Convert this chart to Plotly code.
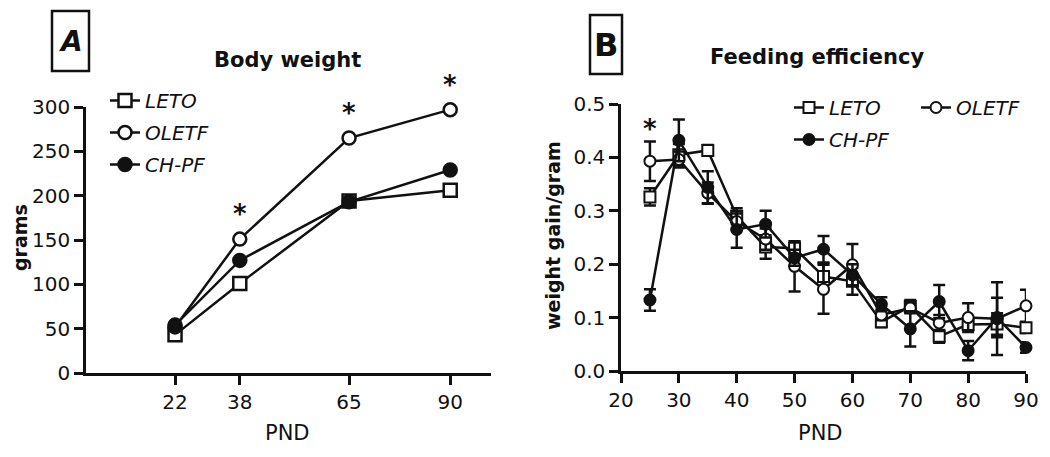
import plotly.graph_objects as go

# ---------------- data ----------------
# Panel A: body weight (grams)
pnd_a = [22, 38, 65, 90]
leto_bw = [43, 101, 194, 206]
oletf_bw = [52, 151, 265, 297]
chpf_bw = [54, 127, 193, 229]
stars_a = [38, 65, 90]

# Panel B: feeding efficiency (weight gain / gram)
pnd_b = [25, 30, 35, 40, 45, 50, 55, 60, 65, 70, 75, 80, 85, 90]
leto_fe = [0.326, 0.405, 0.413, 0.290, 0.232, 0.230, 0.177, 0.168, 0.092, 0.121, 0.065, 0.087, 0.088, 0.081]
leto_err = [0.016, 0.020, 0.010, 0.015, 0.022, 0.012, 0.025, 0.025, 0.010, 0.012, 0.012, 0.010, 0.020, 0.010]
oletf_fe = [0.393, 0.396, 0.333, 0.280, 0.247, 0.196, 0.153, 0.199, 0.105, 0.118, 0.090, 0.100, 0.098, 0.122]
oletf_err = [0.037, 0.015, 0.020, 0.015, 0.020, 0.047, 0.046, 0.039, 0.010, 0.010, 0.015, 0.027, 0.068, 0.030]
chpf_fe = [0.133, 0.432, 0.344, 0.265, 0.275, 0.212, 0.228, 0.180, 0.125, 0.079, 0.130, 0.038, 0.100, 0.044]
chpf_err = [0.020, 0.039, 0.030, 0.034, 0.025, 0.015, 0.025, 0.020, 0.013, 0.033, 0.031, 0.018, 0.037, 0.010]
stars_b = [25]

# ---------------- style ----------------
W, H = 1050, 457
FONT = "DejaVu Sans"
BLACK = "#111111"
LW = 2.5


def px(x):
    return x / W


def py(y):
    return 1 - y / H


fig = go.Figure()

series_a = [
    ("LETO", leto_bw, "square", "white"),
    ("OLETF", oletf_bw, "circle", "white"),
    ("CH-PF", chpf_bw, "circle", BLACK),
]
for name, vals, sym, fill in series_a:
    fig.add_trace(go.Scatter(
        x=pnd_a, y=vals, name=name, mode="lines+markers",
        xaxis="x", yaxis="y", legend="legend", legendgroup="a" + name,
        line=dict(color=BLACK, width=LW),
        marker=dict(symbol=sym, size=13, color=fill, line=dict(color=BLACK, width=LW)),
        cliponaxis=False,
    ))

series_b = [
    ("LETO", leto_fe, leto_err, "square", "white", "legend2"),
    ("OLETF", oletf_fe, oletf_err, "circle", "white", "legend3"),
    ("CH-PF", chpf_fe, chpf_err, "circle", BLACK, "legend2"),
]
for name, vals, err, sym, fill, leg in series_b:
    fig.add_trace(go.Scatter(
        x=pnd_b, y=vals, name=name, mode="lines+markers",
        xaxis="x2", yaxis="y2", legend=leg, legendgroup="b" + name,
        line=dict(color=BLACK, width=LW),
        marker=dict(symbol=sym, size=11, color=fill, line=dict(color=BLACK, width=2)),
        error_y=dict(type="data", array=err, visible=True, color=BLACK,
                     thickness=LW, width=6),
        cliponaxis=False,
    ))

axis_common = dict(
    showline=True, linewidth=LW, linecolor=BLACK, showgrid=False, zeroline=False,
    ticks="outside", ticklen=9, tickwidth=LW, tickcolor=BLACK, automargin=False,
    tickfont=dict(family=FONT, size=20, color=BLACK),
)

legend_common = dict(
    bgcolor="rgba(0,0,0,0)", borderwidth=0, itemwidth=30,
    font=dict(family=FONT, size=20, color=BLACK, style="italic"),
    xanchor="left", yanchor="top", traceorder="grouped", tracegroupgap=3,
)

annotations = []
for xv in stars_a:
    annotations.append(dict(
        x=xv, y=oletf_bw[pnd_a.index(xv)], xref="x", yref="y", text="*",
        xanchor="center", yanchor="middle",
        showarrow=False, yshift=25, font=dict(family=FONT, size=26, color=BLACK, weight="bold")))
for xv in stars_b:
    i = pnd_b.index(xv)
    annotations.append(dict(
        x=xv, y=oletf_fe[i] + oletf_err[i], xref="x2", yref="y2", text="*",
        xanchor="center", yanchor="middle",
        showarrow=False, yshift=12, font=dict(family=FONT, size=26, color=BLACK, weight="bold")))


def label(x, y, text, size, angle=0, **fkw):
    return dict(x=px(x), y=py(y), xref="paper", yref="paper", text=text, textangle=angle,
                xanchor="center", yanchor="middle", showarrow=False,
                font=dict(family=FONT, size=size, color=BLACK, **fkw))


# titles, axis titles, panel letters
annotations += [
    label(287, 60, "Body weight", 21, weight="bold"),
    label(817, 57, "Feeding efficiency", 21, weight="bold"),
    label(287, 433, "PND", 21),
    label(820, 433, "PND", 21),
    label(20, 238, "grams", 19, -90, weight="bold"),
    label(553, 236, "weight gain/gram", 19, -90, weight="bold"),
    label(70.5, 42, "A", 28, style="italic", weight="bold"),
    label(606, 45, "B", 32, weight="bold"),
]

shapes = [
    dict(type="rect", xref="paper", yref="paper", x0=px(52), x1=px(89), y0=py(71), y1=py(11),
         line=dict(color=BLACK, width=LW)),
    dict(type="rect", xref="paper", yref="paper", x0=px(590), x1=px(622), y0=py(74), y1=py(15),
         line=dict(color=BLACK, width=LW)),
]

fig.update_layout(
    template="none",
    width=W, height=H, margin=dict(l=0, r=0, t=0, b=0, autoexpand=False),
    paper_bgcolor="white", plot_bgcolor="white",
    font=dict(family=FONT, color=BLACK),
    xaxis=dict(axis_common, domain=[px(86), px(490.7)], range=[0, 100], tickvals=pnd_a,
               anchor="y"),
    yaxis=dict(axis_common, domain=[py(373), py(107)], range=[0, 300], dtick=50,
               anchor="x"),
    xaxis2=dict(axis_common, domain=[px(621), px(1026)], range=[20, 90], dtick=10,
                anchor="y2"),
    yaxis2=dict(axis_common, domain=[py(371), py(104)], range=[0, 0.5], dtick=0.1,
                tickformat=".1f", anchor="x2"),
    legend=dict(legend_common, x=px(105), y=py(81)),
    legend2=dict(legend_common, x=px(789), y=py(88)),
    legend3=dict(legend_common, x=px(916), y=py(88)),
    showlegend=True,
    annotations=annotations,
    shapes=shapes,
)

fig.write_html("out.html", config={"displayModeBar": False},
               post_script="document.body.style.margin='0';")
